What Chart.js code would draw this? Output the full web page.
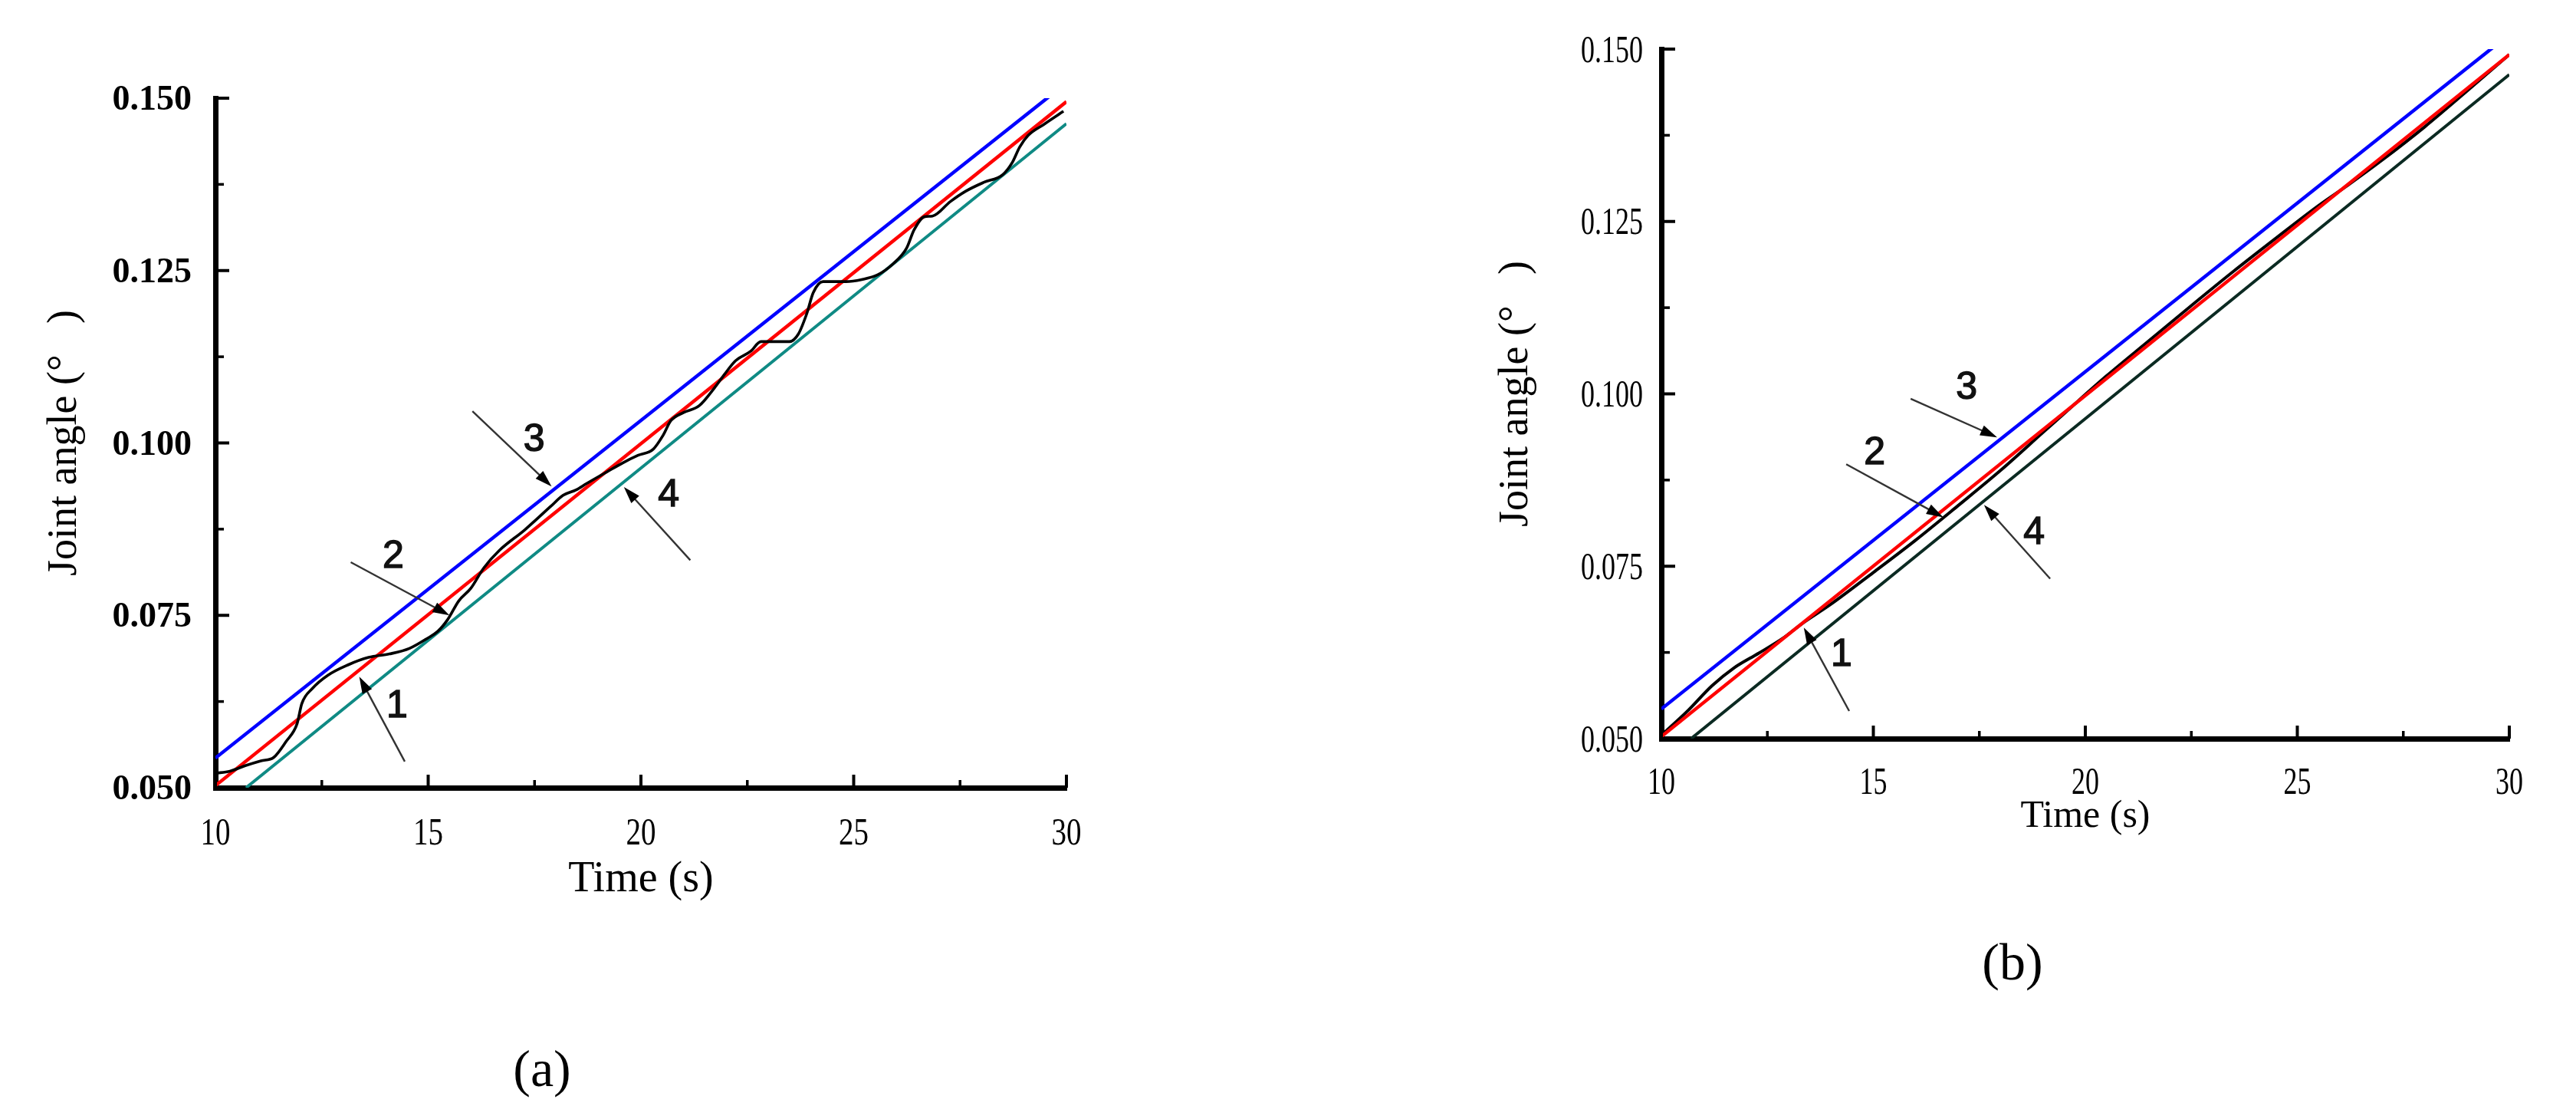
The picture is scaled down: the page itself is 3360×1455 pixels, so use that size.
<!DOCTYPE html>
<html>
<head>
<meta charset="utf-8">
<title>Joint angle vs time</title>
<script src="https://cdn.jsdelivr.net/npm/chart.js@4.4.1/dist/chart.umd.min.js"></script>
<style>
  html, body { margin: 0; padding: 0; background: #fff; }
  body { width: 3360px; height: 1455px; position: relative; overflow: hidden; }
  .panel { position: absolute; top: 0; height: 1300px; }
  #panel__a { left: 0; width: 1600px; }
  #panel__b { left: 1700px; width: 1660px; }
  .caption {
    position: absolute;
    font-family: "Liberation Serif", "Times New Roman", serif;
    font-size: 68px;
    color: #000;
    transform: translate(-50%, -50%);
  }
</style>
</head>
<body>
<div class="panel" id="panel__a"><canvas id="chart__a"></canvas></div>
<div class="panel" id="panel__b"><canvas id="chart__b"></canvas></div>
<div class="caption" style="left: 707px; top: 1393px;">(a)</div>
<div class="caption" style="left: 2625px; top: 1254px;">(b)</div>

<script>
"use strict";

// ** Axis ticks
const timeTicks = [10, 15, 20, 25, 30];
const timeTickLabels = ["10", "15", "20", "25", "30"];
const angleTicks = [0.05, 0.075, 0.1, 0.125, 0.15];
const angleTickLabels = ["0.050", "0.075", "0.100", "0.125", "0.150"];

// ** Panel (a)
// line 2 (red)
const timeRefA = [10, 30];
const angleRefA = [0.0503, 0.1495];
// line 3 (blue)
const timeUpperA = [10, 29.75];
const angleUpperA = [0.0543, 0.151];
// line 4 (teal)
const timeLowerA = [10.72, 30];
const angleLowerA = [0.05, 0.1463];
// line 1 (black)
const timeActualA = [
  10, 10.34, 10.7, 11.07, 11.37, 11.66, 11.92, 12.03, 12.28, 12.64, 13.11, 13.6,
  14.09, 14.56, 14.99, 15.23, 15.46, 15.72, 16.0, 16.31, 16.67, 17.27, 17.88,
  18.17, 18.48, 18.72, 19.2, 19.57, 19.93, 20.29, 20.52, 20.7, 21.0, 21.37,
  21.73, 21.97, 22.22, 22.58, 22.82, 23.49, 23.7, 23.9, 24.05, 24.28, 24.82,
  25.19, 25.57, 25.93, 26.24, 26.42, 26.66, 26.85, 27.27, 27.63, 28.06, 28.5,
  28.73, 28.9, 29.1, 29.47, 29.93,
];
const angleActualA = [
  0.0521, 0.0524, 0.0532, 0.0539, 0.0544, 0.0567, 0.0593, 0.0622, 0.0644,
  0.0663, 0.0678, 0.0689, 0.0694, 0.0702, 0.0717, 0.0727, 0.0744, 0.0771,
  0.0789, 0.0819, 0.0844, 0.0874, 0.0908, 0.0924, 0.0932, 0.0941, 0.0958,
  0.0971, 0.0982, 0.0991, 0.1011, 0.1032, 0.1044, 0.1054, 0.108, 0.11, 0.1119,
  0.1133, 0.1147, 0.1147, 0.1158, 0.1188, 0.1218, 0.1234, 0.1234, 0.1237,
  0.1244, 0.126, 0.1282, 0.1309, 0.1328, 0.1329, 0.135, 0.1365, 0.1378, 0.1389,
  0.1407, 0.1429, 0.1446, 0.1462, 0.1481,
];

// ** Panel (b)
const timeRefB = [10, 30];
const angleRefB = [0.0503, 0.1492];
const timeUpperB = [10, 29.75];
const angleUpperB = [0.0543, 0.1509];
const timeLowerB = [10.7, 30];
const angleLowerB = [0.05, 0.1463];
const timeActualB = [
  10, 10.6, 11.2, 11.7, 12.3, 12.9, 13.3, 14, 15, 16, 17, 18, 19, 19.6, 20.5,
  21.5, 22.5, 23.5, 24.5, 25.5, 26.2, 27, 28, 29, 30,
];
const angleActualB = [
  0.0505, 0.0539, 0.0577, 0.0602, 0.0624, 0.0647, 0.0666, 0.0695, 0.0741,
  0.0788, 0.0838, 0.0889, 0.0944, 0.0977, 0.1026, 0.1077, 0.1128, 0.1178,
  0.1226, 0.1273, 0.1303, 0.1339, 0.1387, 0.1439, 0.1492,
];

// ** Callouts [time, angle]
const calloutLabels = ["1", "2", "3", "4"];
const calloutTailA = [[14.45, 0.0538], [13.18, 0.0827], [16.04, 0.1046], [21.16, 0.083]];
const calloutHeadA = [[13.38, 0.0661], [15.5, 0.075], [17.9, 0.0937], [19.6, 0.0936]];
const calloutTextA = [[14.27, 0.0622], [14.18, 0.0839], [17.49, 0.1008], [20.65, 0.0928]];
const calloutTailB = [[14.43, 0.054], [14.36, 0.0898], [15.88, 0.0993], [19.17, 0.0732]];
const calloutHeadB = [[13.36, 0.0661], [16.65, 0.0821], [17.92, 0.0937], [17.61, 0.0839]];
const calloutTextB = [[14.25, 0.0626], [15.03, 0.0918], [17.2, 0.1013], [18.79, 0.0803]];

// ** Helpers

function toPoints(xs, ys) {
  return xs.map((x, i) => ({ x: x, y: ys[i] }));
}

function lineSet(xs, ys, color, width, smooth) {
  return {
    data: toPoints(xs, ys),
    borderColor: color,
    backgroundColor: color,
    borderWidth: width,
    pointRadius: 0,
    fill: false,
    tension: 0,
    cubicInterpolationMode: smooth ? "monotone" : "default",
  };
}

// inward tick marks, major + minor
const inwardTicks = {
  id: "inwardTicks",
  afterDraw(chart) {
    const { ctx, chartArea, scales } = chart;
    const drawSet = (values, scale, len, horizontal) => {
      values.forEach((v) => {
        const p = scale.getPixelForValue(v);
        ctx.beginPath();
        if (horizontal) {
          ctx.moveTo(p, chartArea.bottom);
          ctx.lineTo(p, chartArea.bottom - len);
        } else {
          ctx.moveTo(chartArea.left, p);
          ctx.lineTo(chartArea.left + len, p);
        }
        ctx.stroke();
      });
    };
    const minors = (arr) => arr.slice(1).map((v, i) => (v + arr[i]) / 2);
    ctx.save();
    ctx.strokeStyle = "#000";
    ctx.lineWidth = 4;
    drawSet(timeTicks, scales.x, 17, true);
    drawSet(angleTicks, scales.y, 18, false);
    ctx.lineWidth = 3.5;
    drawSet(minors(timeTicks), scales.x, 10, true);
    drawSet(minors(angleTicks), scales.y, 11, false);
    ctx.restore();
  },
};

// tick labels (the figure uses horizontally squeezed serif digits)
function makeTickLabels(s) {
  return {
    id: "tickLabels",
    afterDraw(chart) {
      const { ctx, chartArea, scales } = chart;
      ctx.save();
      ctx.fillStyle = "#000";
      ctx.textAlign = "right";
      ctx.font = s.yFont;
      angleTicks.forEach((v, i) => {
        const py = scales.y.getPixelForValue(v);
        ctx.save();
        ctx.translate(chartArea.left - s.yGap, py + s.ySize * 0.33);
        ctx.scale(s.yStretch, 1);
        ctx.fillText(angleTickLabels[i], 0, 0);
        ctx.restore();
      });
      ctx.textAlign = "center";
      ctx.font = s.xFont;
      timeTicks.forEach((v, i) => {
        const px = scales.x.getPixelForValue(v);
        ctx.save();
        ctx.translate(px, chartArea.bottom + s.xGap + s.xSize * 0.33);
        ctx.scale(s.xStretch, 1);
        ctx.fillText(timeTickLabels[i], 0, 0);
        ctx.restore();
      });
      ctx.restore();
    },
  };
}

function makeCallouts(tails, heads, texts) {
  return {
    id: "callouts",
    afterDatasetsDraw(chart) {
      const { ctx, scales } = chart;
      const px = (p) => [scales.x.getPixelForValue(p[0]), scales.y.getPixelForValue(p[1])];
      const headLen = 22;
      const headHalf = 7;
      ctx.save();
      tails.forEach((tail, i) => {
        const [x0, y0] = px(tail);
        const [x1, y1] = px(heads[i]);
        const a = Math.atan2(y1 - y0, x1 - x0);
        const ca = Math.cos(a);
        const sa = Math.sin(a);
        ctx.strokeStyle = "#333";
        ctx.lineWidth = 2.4;
        ctx.beginPath();
        ctx.moveTo(x0, y0);
        ctx.lineTo(x1 - ca * headLen * 0.6, y1 - sa * headLen * 0.6);
        ctx.stroke();
        ctx.fillStyle = "#000";
        ctx.beginPath();
        ctx.moveTo(x1, y1);
        ctx.lineTo(x1 - ca * headLen - sa * headHalf, y1 - sa * headLen + ca * headHalf);
        ctx.lineTo(x1 - ca * headLen + sa * headHalf, y1 - sa * headLen - ca * headHalf);
        ctx.closePath();
        ctx.fill();

        const [tx, ty] = px(texts[i]);
        ctx.font = '50px "Liberation Sans", Arial, sans-serif';
        ctx.textAlign = "center";
        ctx.fillStyle = "#111";
        ctx.strokeStyle = "#111";
        ctx.lineWidth = 1.4;
        ctx.fillText(calloutLabels[i], tx, ty + 18);
        ctx.strokeText(calloutLabels[i], tx, ty + 18);
      });
      ctx.restore();
    },
  };
}

function buildConfig(p) {
  return {
    type: "line",
    data: { datasets: p.datasets },
    options: {
      responsive: true,
      maintainAspectRatio: false,
      animation: false,
      events: [],
      layout: { padding: p.padding },
      plugins: {
        legend: { display: false },
        tooltip: { enabled: false },
      },
      scales: {
        x: {
          type: "linear",
          min: 10,
          max: 30,
          afterFit: (scale) => {
            scale.height = p.xAxisHeight;
          },
          ticks: { display: false, stepSize: 5 },
          grid: { display: false, drawTicks: false },
          border: { display: true, width: 7, color: "#000" },
          title: {
            display: true,
            text: "Time (s)",
            color: "#000",
            font: { family: '"Liberation Serif", "Times New Roman", serif', size: p.xTitleSize },
            padding: { top: 0, bottom: p.xTitlePad },
          },
        },
        y: {
          type: "linear",
          min: 0.05,
          max: 0.15,
          afterFit: (scale) => {
            scale.width = p.yAxisWidth;
          },
          ticks: { display: false, stepSize: 0.025 },
          grid: { display: false, drawTicks: false },
          border: { display: true, width: 7, color: "#000" },
          title: {
            display: true,
            text: "Joint angle (\u00b0   )",
            color: "#000",
            font: { family: '"Liberation Serif", "Times New Roman", serif', size: 54 },
            padding: { top: p.yTitlePad, bottom: 0 },
          },
        },
      },
    },
    plugins: [inwardTicks, p.labels, p.callouts],
  };
}

// ** Charts

const chartA = new Chart(document.getElementById("chart__a").getContext("2d"), buildConfig({
  datasets: [
    lineSet(timeActualA, angleActualA, "#000000", 3.6, true),
    lineSet(timeRefA, angleRefA, "#ff0000", 4.5, false),
    lineSet(timeUpperA, angleUpperA, "#0000ff", 4.5, false),
    lineSet(timeLowerA, angleLowerA, "#0f8a84", 4, false),
  ],
  padding: { left: 0, top: 128, right: 209, bottom: 113 },
  yAxisWidth: 281,
  xAxisHeight: 160,
  yTitlePad: 52,
  xTitleSize: 56,
  xTitlePad: 6,
  labels: makeTickLabels({
    yFont: 'bold 46px "Liberation Serif", serif', ySize: 46, yGap: 31, yStretch: 1,
    xFont: '50px "Liberation Serif", serif', xSize: 50, xGap: 57, xStretch: 0.78,
  }),
  callouts: makeCallouts(calloutTailA, calloutHeadA, calloutTextA),
}));

const chartB = new Chart(document.getElementById("chart__b").getContext("2d"), buildConfig({
  datasets: [
    lineSet(timeRefB, angleRefB, "#ff0000", 4.5, false),
    lineSet(timeActualB, angleActualB, "#000000", 4, true),
    lineSet(timeUpperB, angleUpperB, "#0000ff", 4.5, false),
    lineSet(timeLowerB, angleLowerB, "#0b2a22", 4, false),
  ],
  padding: { left: 200, top: 64, right: 87, bottom: 197 },
  yAxisWidth: 267,
  xAxisHeight: 140,
  yTitlePad: 45,
  xTitleSize: 50,
  xTitlePad: 8,
  labels: makeTickLabels({
    yFont: '50px "Liberation Serif", serif', ySize: 50, yGap: 24, yStretch: 0.72,
    xFont: '50px "Liberation Serif", serif', xSize: 50, xGap: 55, xStretch: 0.72,
  }),
  callouts: makeCallouts(calloutTailB, calloutHeadB, calloutTextB),
}));
</script>
</body>
</html>
